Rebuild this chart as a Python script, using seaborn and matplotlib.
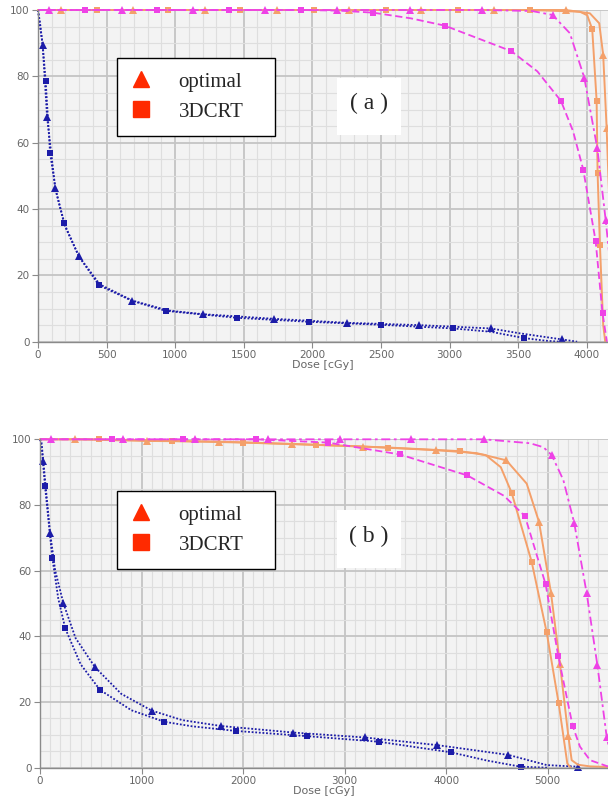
import seaborn as sns
import matplotlib
matplotlib.use("Agg")
import matplotlib.pyplot as plt
from matplotlib.lines import Line2D
from matplotlib.patches import Rectangle
from matplotlib.ticker import MultipleLocator

# ---- panel (a) ----
a_blue_opt_dose = [0, 15, 34, 66, 126, 200, 297, 450, 687, 950, 1200, 1722, 2250, 2777, 3300, 3500, 3817, 3930]
a_blue_opt_vol = [100, 96, 89.4, 67.8, 46.2, 34.5, 25.8, 17.3, 12.4, 9.4, 8.3, 6.9, 5.7, 5.0, 4.0, 2.6, 0.7, 0]
a_blue_opt_mark = [2, 3, 4, 6, 8, 10, 11, 12, 13, 14, 16]

a_blue_3d_dose = [0, 15, 34, 56, 88, 130, 190, 300, 445, 687, 931, 1200, 1450, 1975, 2498, 3025, 3300, 3542, 3700, 3800]
a_blue_3d_vol = [100, 95, 89.5, 78.6, 56.8, 45.5, 35.7, 25.6, 17.0, 12.3, 9.3, 8.2, 7.2, 6.0, 5.1, 4.0, 3.0, 1.1, 0.3, 0]
a_blue_3d_mark = [3, 4, 6, 8, 10, 12, 13, 14, 15, 17]

a_pink_opt_dose = [0, 80, 610, 1128, 1655, 2182, 2712, 3234, 3600, 3751, 3877, 3982, 4077, 4138, 4200]
a_pink_opt_vol = [100, 100, 100, 100, 100, 100, 100, 100, 99.7, 98.5, 93, 79.6, 58.3, 36.7, 12]
a_pink_opt_mark = [1, 2, 3, 4, 5, 6, 7, 9, 11, 12, 13]

a_pink_3d_dose = [0, 343, 865, 1394, 1920, 2200, 2442, 2716, 2964, 3450, 3640, 3812, 3900, 3975, 4065, 4115, 4147]
a_pink_3d_vol = [100, 100, 100, 100, 100, 99.8, 99.2, 97.5, 95.3, 87.6, 81.5, 72.6, 63.5, 51.8, 30.3, 8.6, 0]
a_pink_3d_mark = [1, 2, 3, 4, 6, 8, 9, 11, 13, 14, 15]

a_orange_opt_dose = [0, 168, 692, 1217, 1740, 2267, 2794, 3324, 3848, 4023, 4091, 4120, 4145, 4175, 4200]
a_orange_opt_vol = [100, 100, 100, 100, 100, 100, 100, 100, 100, 99, 96, 86.4, 64.5, 30, 0]
a_orange_opt_mark = [1, 2, 3, 4, 5, 6, 7, 8, 11, 12]

a_orange_3d_dose = [0, 428, 948, 1472, 2012, 2534, 3061, 3586, 3950, 4004, 4040, 4072, 4079, 4096, 4120, 4135]
a_orange_3d_vol = [100, 100, 100, 100, 100, 100, 100, 100, 99.5, 98.4, 94.2, 72.7, 51, 29.2, 5, 0]
a_orange_3d_mark = [1, 2, 3, 4, 5, 6, 7, 10, 11, 12, 13]

# ---- panel (b) ----
b_blue_opt_dose = [0, 15, 33, 55, 99, 150, 230, 350, 542, 800, 1100, 1400, 1783, 2496, 3202, 3908, 4614, 4992, 5303]
b_blue_opt_vol = [100, 99, 93.3, 86, 71.6, 60, 50.1, 39.5, 30.6, 22.5, 17.4, 14.5, 12.7, 10.7, 9.2, 6.9, 3.9, 0.8, 0.3]
b_blue_opt_mark = [2, 4, 6, 8, 10, 12, 13, 14, 15, 16, 18]

b_blue_3d_dose = [0, 15, 49, 121, 180, 249, 400, 591, 900, 1222, 1500, 1928, 2634, 3340, 4046, 4400, 4736, 5000]
b_blue_3d_vol = [100, 98, 85.8, 64.0, 51.5, 42.4, 31.5, 23.7, 17.5, 14.0, 12.6, 11.2, 9.6, 7.9, 4.7, 2.2, 0.3, 0]
b_blue_3d_mark = [2, 3, 5, 7, 9, 11, 12, 13, 14, 16]

b_pink_opt_dose = [0, 105, 821, 1527, 2243, 2956, 3658, 4374, 4828, 4959, 5041, 5156, 5264, 5386, 5491, 5583, 5650]
b_pink_opt_vol = [100, 100, 100, 100, 100, 100, 100, 100, 98.8, 97.6, 95.2, 87.6, 74.4, 53.1, 31.3, 9.4, 0]
b_pink_opt_mark = [1, 2, 3, 4, 5, 6, 7, 10, 12, 13, 14, 15]

b_pink_3d_dose = [0, 706, 1412, 2125, 2837, 3544, 4210, 4571, 4778, 4982, 5106, 5248, 5320, 5419, 5583, 5700]
b_pink_3d_vol = [100, 100, 100, 100, 99, 95.4, 89.0, 82.8, 76.6, 55.8, 34.0, 12.7, 6.4, 2.3, 0.5, 0]
b_pink_3d_mark = [1, 2, 3, 4, 5, 6, 8, 9, 10, 11]

b_orange_opt_dose = [0, 345, 1051, 1764, 2480, 3185, 3898, 4300, 4594, 4795, 4916, 5034, 5123, 5205, 5238, 5300, 5419, 5600]
b_orange_opt_vol = [100, 100, 99.5, 99.3, 98.6, 97.8, 96.7, 95.8, 93.6, 86.5, 74.9, 53.3, 31.5, 9.7, 2.3, 0.9, 0.4, 0.2]
b_orange_opt_mark = [1, 2, 3, 4, 5, 6, 8, 10, 11, 12, 13]

b_orange_3d_dose = [0, 584, 1297, 2003, 2716, 3429, 4135, 4391, 4540, 4647, 4844, 4992, 5110, 5195, 5227]
b_orange_3d_vol = [100, 100, 99.5, 99.0, 98.3, 97.5, 96.4, 95.2, 91.5, 83.7, 62.7, 41.2, 19.6, 1.3, 0]
b_orange_3d_mark = [1, 2, 3, 4, 5, 6, 9, 10, 11, 12]

legend_labels = ["optimal", "3DCRT"]

BLUE = "#1c1ca8"
PINK = "#ee42e6"
ORANGE = "#f4a06a"
RED = "#ff2a00"

sns.set_theme(style="ticks")
plt.rcParams["font.family"] = ["DejaVu Sans"]

W, H = 608, 798
fig = plt.figure(figsize=(W / 100, H / 100), dpi=100)


def fig_box(x0, y0, x1, y1):
    # pixel box (top-left origin) -> [left, bottom, width, height] in figure fraction
    return [x0 / W, 1 - y1 / H, (x1 - x0) / W, (y1 - y0) / H]


def draw_curve(ax, dose, vol, mark, color, ls, marker, ms, lw):
    sns.lineplot(x=dose, y=vol, ax=ax, color=color, linestyle=ls, linewidth=lw,
                 marker=marker, markevery=mark, markersize=ms,
                 markeredgewidth=0, estimator=None, sort=False, clip_on=False)


def style_axes(ax, xmax, xmajor):
    ax.set_facecolor("#f3f3f3")
    ax.set_xlim(0, xmax)
    ax.set_ylim(0, 100)
    ax.xaxis.set_major_locator(MultipleLocator(xmajor))
    ax.xaxis.set_minor_locator(MultipleLocator(100))
    ax.yaxis.set_major_locator(MultipleLocator(20))
    ax.yaxis.set_minor_locator(MultipleLocator(5))
    ax.grid(which="minor", color="#dedede", linewidth=0.8)
    ax.grid(which="major", color="#c4c4c4", linewidth=1.3)
    ax.set_axisbelow(True)
    for s in ["top", "right"]:
        ax.spines[s].set_visible(False)
    for s in ["left", "bottom"]:
        ax.spines[s].set_color("#8a8a8a")
        ax.spines[s].set_linewidth(1.0)
    ax.tick_params(which="major", length=4, width=0.8, color="#8a8a8a",
                   labelsize=7.5, labelcolor="#666666", pad=2)
    ax.tick_params(which="minor", length=0)
    ax.set_xlabel("Dose [cGy]", fontsize=8, color="#666666", labelpad=0)
    ax.set_ylabel("")


def add_legend(ax, box):
    handles = [Line2D([], [], marker="^", color=RED, ls="none", markersize=12),
               Line2D([], [], marker="s", color=RED, ls="none", markersize=11)]
    l, b, w, h = fig_box(*box)
    leg = ax.legend(handles, legend_labels, loc="upper left",
                    bbox_to_anchor=(l, b, w, h), bbox_transform=fig.transFigure,
                    mode="expand", borderaxespad=0, frameon=True, fancybox=False,
                    prop={"family": "Liberation Serif", "size": 15},
                    handlelength=0.9, handletextpad=1.35, borderpad=0.68,
                    labelspacing=0.5)
    leg.get_frame().set_edgecolor("black")
    leg.get_frame().set_linewidth(1.0)
    leg.get_frame().set_facecolor("white")
    leg.get_frame().set_alpha(1)


def add_tag(text, box):
    l, b, w, h = fig_box(*box)
    fig.patches.append(Rectangle((l, b), w, h, transform=fig.transFigure,
                                 facecolor="white", edgecolor="none", zorder=3))
    fig.text(l + w / 2, b + h / 2 + 3 / H, text, ha="center", va="center",
             family="Liberation Serif", fontsize=17, zorder=4)


ax_a = fig.add_axes(fig_box(38, 10, 608, 341.7))
ax_b = fig.add_axes(fig_box(40, 439.3, 608, 767.7))

dot = (0, (1, 1))
dash = (0, (4, 2))
dashdot = (0, (5, 2, 1.5, 2))

draw_curve(ax_a, a_blue_opt_dose, a_blue_opt_vol, a_blue_opt_mark, BLUE, dot, "^", 6, 1.3)
draw_curve(ax_a, a_blue_3d_dose, a_blue_3d_vol, a_blue_3d_mark, BLUE, dot, "s", 4.5, 1.3)
draw_curve(ax_a, a_orange_opt_dose, a_orange_opt_vol, a_orange_opt_mark, ORANGE, "-", "^", 6, 1.4)
draw_curve(ax_a, a_orange_3d_dose, a_orange_3d_vol, a_orange_3d_mark, ORANGE, "-", "s", 4.5, 1.4)
draw_curve(ax_a, a_pink_opt_dose, a_pink_opt_vol, a_pink_opt_mark, PINK, dashdot, "^", 6, 1.3)
draw_curve(ax_a, a_pink_3d_dose, a_pink_3d_vol, a_pink_3d_mark, PINK, dash, "s", 4.5, 1.3)
style_axes(ax_a, 4155, 500)

draw_curve(ax_b, b_blue_opt_dose, b_blue_opt_vol, b_blue_opt_mark, BLUE, dot, "^", 6, 1.3)
draw_curve(ax_b, b_blue_3d_dose, b_blue_3d_vol, b_blue_3d_mark, BLUE, dot, "s", 4.5, 1.3)
draw_curve(ax_b, b_orange_opt_dose, b_orange_opt_vol, b_orange_opt_mark, ORANGE, "-", "^", 6, 1.4)
draw_curve(ax_b, b_orange_3d_dose, b_orange_3d_vol, b_orange_3d_mark, ORANGE, "-", "s", 4.5, 1.4)
draw_curve(ax_b, b_pink_opt_dose, b_pink_opt_vol, b_pink_opt_mark, PINK, dashdot, "^", 6, 1.3)
draw_curve(ax_b, b_pink_3d_dose, b_pink_3d_vol, b_pink_3d_mark, PINK, dash, "s", 4.5, 1.3)
style_axes(ax_b, 5596, 1000)

add_legend(ax_a, (117.5, 58, 275, 136))
add_legend(ax_b, (117.5, 491, 275, 569))
add_tag("( a )", (337, 78, 401, 135))
add_tag("( b )", (337, 510, 401, 568))

fig.savefig("out.png", dpi=100)
